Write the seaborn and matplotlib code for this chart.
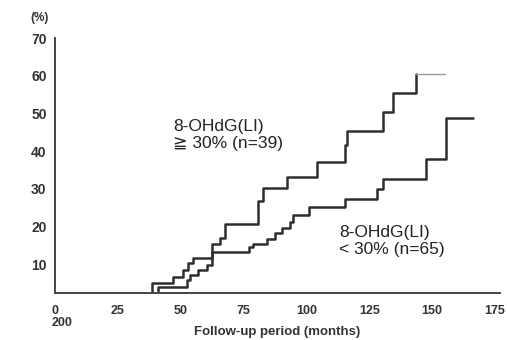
import numpy as np
import pandas as pd
import matplotlib
matplotlib.use('Agg')
import matplotlib.pyplot as plt
import seaborn as sns

# step points: month where the curve rises, cumulative % after it
high_months = [38.6, 38.6, 46.9, 50.9, 52.9, 54.9, 62.5, 65.6, 67.6, 80.7, 82.7, 92.3,
               104.2, 115.4, 116.1, 130.5, 134.4, 143.6]
high_pct = [0, 5.0, 6.6, 8.4, 10.3, 11.8, 15.5, 17.1, 20.8, 26.8, 30.3, 33.2,
            37.1, 41.6, 45.3, 50.3, 55.5, 60.5]
high_end = 155.1

low_months = [41.0, 41.0, 52.5, 53.7, 56.9, 60.5, 62.5, 77.2, 78.8, 84.3, 87.5, 90.3,
              93.5, 94.7, 101.0, 115.4, 128.1, 130.5, 147.6, 155.5, 166.3]
low_pct = [0, 3.9, 5.8, 7.1, 8.4, 9.7, 13.4, 14.5, 15.5, 16.8, 18.2, 19.5,
           21.1, 23.2, 25.3, 27.4, 30.0, 32.6, 37.9, 48.9, 48.9]

x_ticks = [0, 25, 50, 75, 100, 125, 150, 175]
y_ticks = [10, 20, 30, 40, 50, 60, 70]

high = pd.DataFrame({'month': high_months, 'pct': high_pct})
low = pd.DataFrame({'month': low_months, 'pct': low_pct})
high_tail = pd.DataFrame({'month': [high_months[-1], high_end], 'pct': [high_pct[-1], high_pct[-1]]})

sns.set_style('white')
plt.rcParams['font.family'] = ['Liberation Sans', 'DejaVu Sans']

fig = plt.figure(figsize=(5.07, 3.40), dpi=100)
ax = fig.add_axes([55 / 507, 47 / 340, 445 / 507, 255 / 340])

line_col = '#2e2e2e'
sns.lineplot(data=high, x='month', y='pct', drawstyle='steps-post', estimator=None,
             sort=False, color=line_col, lw=1.8, ax=ax)
sns.lineplot(data=high_tail, x='month', y='pct', estimator=None, sort=False,
             color='#999999', lw=1.0, ax=ax)
sns.lineplot(data=low, x='month', y='pct', drawstyle='steps-post', estimator=None,
             sort=False, color=line_col, lw=1.8, ax=ax)

ax.set_xlim(0, 177)
ax.set_ylim(2.4, 70)
ax.set_xticks(x_ticks)
ax.set_yticks(y_ticks)
ax.set_xticklabels([str(t) for t in x_ticks], fontsize=9, fontweight='bold', color='#333333')
ax.set_yticklabels([str(t) for t in y_ticks], fontsize=10, fontweight='bold', color='#333333')
ax.tick_params(axis='both', direction='out', length=3, width=1, color='#444444', pad=3)
ax.tick_params(axis='x', pad=6)

sns.despine(ax=ax)
for s in ['left', 'bottom']:
    ax.spines[s].set_color('#444444')
    ax.spines[s].set_linewidth(1.4)

ax.set_xlabel('Follow-up period (months)', fontsize=9.5, fontweight='bold', color='#333333', labelpad=6)
ax.set_ylabel('')

fig.text(40 / 507, 1 - 18 / 340, '(%)', fontsize=8.5, fontweight='bold', color='#333333',
         ha='center', va='center')
fig.text(62 / 507, 1 - 323 / 340, '200', fontsize=9, fontweight='bold', color='#333333',
         ha='center', va='center')

ax.text(47, 48.5, '8-OHdG(LI)\n≧ 30% (n=39)', fontsize=12.5, color='#222222',
        ha='left', va='top', linespacing=1.15, family=['Liberation Sans', 'DejaVu Sans'])
ax.text(113, 20.5, '8-OHdG(LI)\n< 30% (n=65)', fontsize=12.5, color='#222222',
        ha='left', va='top', linespacing=1.15, family=['Liberation Sans', 'DejaVu Sans'])

fig.savefig('out.png', dpi=100, facecolor='white')
